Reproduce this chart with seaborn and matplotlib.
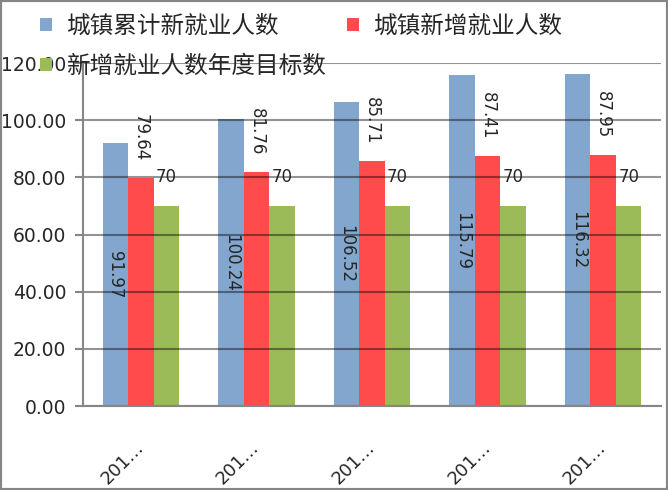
import matplotlib
matplotlib.use("Agg")
import matplotlib.pyplot as plt
import seaborn as sns
import pandas as pd
from matplotlib.patches import Patch, Rectangle

# ---- data ----
categories = ["201…", "201…", "201…", "201…", "201…"]
series_names = ["城镇累计新就业人数", "城镇新增就业人数", "新增就业人数年度目标数"]
cumulative = [91.97, 100.24, 106.52, 115.79, 116.32]
new_jobs = [79.64, 81.76, 85.71, 87.41, 87.95]
target = [70, 70, 70, 70, 70]
colors = ["#83A6CF", "#FF4B4B", "#9BBB59"]
y_ticks = [0, 20, 40, 60, 80, 100, 120]

rows = []
for i, c in enumerate(categories):
    for name, vals in zip(series_names, [cumulative, new_jobs, target]):
        rows.append({"idx": i, "series": name, "value": vals[i]})
df = pd.DataFrame(rows)

sns.set_theme(style="white")
plt.rcParams["font.family"] = ["DejaVu Sans"]
cjk = ["Noto Sans CJK SC", "DejaVu Sans"]
grid_c = "#868686"

fig = plt.figure(figsize=(6.68, 4.90), dpi=100)
ax = fig.add_axes([83 / 668, 1 - 406 / 490, (661 - 83) / 668, (406 - 63) / 490])

sns.barplot(data=df, x="idx", y="value", hue="series", hue_order=series_names,
            palette=colors, width=0.66, gap=0, saturation=1, ax=ax,
            legend=False, errorbar=None, zorder=2, linewidth=0, edgecolor="none")

ax.set_ylim(0, 120)
ax.set_xlim(-0.5, len(categories) - 0.5)
ax.set_yticks(y_ticks)
ax.set_yticklabels([f"{v:.2f}" for v in y_ticks], fontsize=13.5)
ax.set_xticks(range(len(categories)))
ax.set_xticklabels(categories, fontsize=13, rotation=45, ha="right", va="center",
                   rotation_mode="anchor")
ax.set_xticks([i - 0.5 for i in range(len(categories) + 1)], minor=True)
ax.tick_params(axis="x", which="major", length=0, pad=28)
ax.tick_params(axis="x", which="minor", length=6, width=1.5, color=grid_c)
ax.tick_params(axis="y", which="major", length=6, width=1.5, color=grid_c, pad=6, left=True)
ax.set_xlabel("")
ax.set_ylabel("")

ax.set_axisbelow(False)
ax.yaxis.grid(True, color="black", alpha=0.42, linewidth=1.5)
ax.xaxis.grid(False)
for s in ["top", "right"]:
    ax.spines[s].set_visible(False)
for s in ["left", "bottom"]:
    ax.spines[s].set_color(grid_c)
    ax.spines[s].set_linewidth(1.5)
    ax.spines[s].set_zorder(3)

conts = ax.containers
ax.bar_label(conts[0], labels=[f"{v:.2f}" for v in cumulative], label_type="center",
             rotation=-90, fontsize=12, zorder=4)
ax.bar_label(conts[1], labels=[f"{v:.2f}" for v in new_jobs], label_type="edge",
             rotation=-90, fontsize=12, padding=12, zorder=4)
ax.bar_label(conts[2], labels=[f"{v:g}" for v in target], label_type="edge",
             fontsize=12, padding=14, zorder=4)

handles = [Patch(facecolor=c, edgecolor="none") for c in colors]
order = [0, 2, 1]
fig.legend([handles[i] for i in order], [series_names[i] for i in order],
           loc="upper left", bbox_to_anchor=(40 / 668, 1 - 15 / 490), ncol=2,
           frameon=False, borderpad=0, borderaxespad=0,
           handlelength=0.5, handleheight=0.5, handletextpad=0.6,
           columnspacing=0.9, labelspacing=0.72,
           prop={"family": cjk, "size": 17})

fig.patches.append(Rectangle((0, 0), 1, 1, transform=fig.transFigure, fill=False,
                             edgecolor=grid_c, linewidth=3, zorder=10))

fig.savefig("out.png", dpi=100)
